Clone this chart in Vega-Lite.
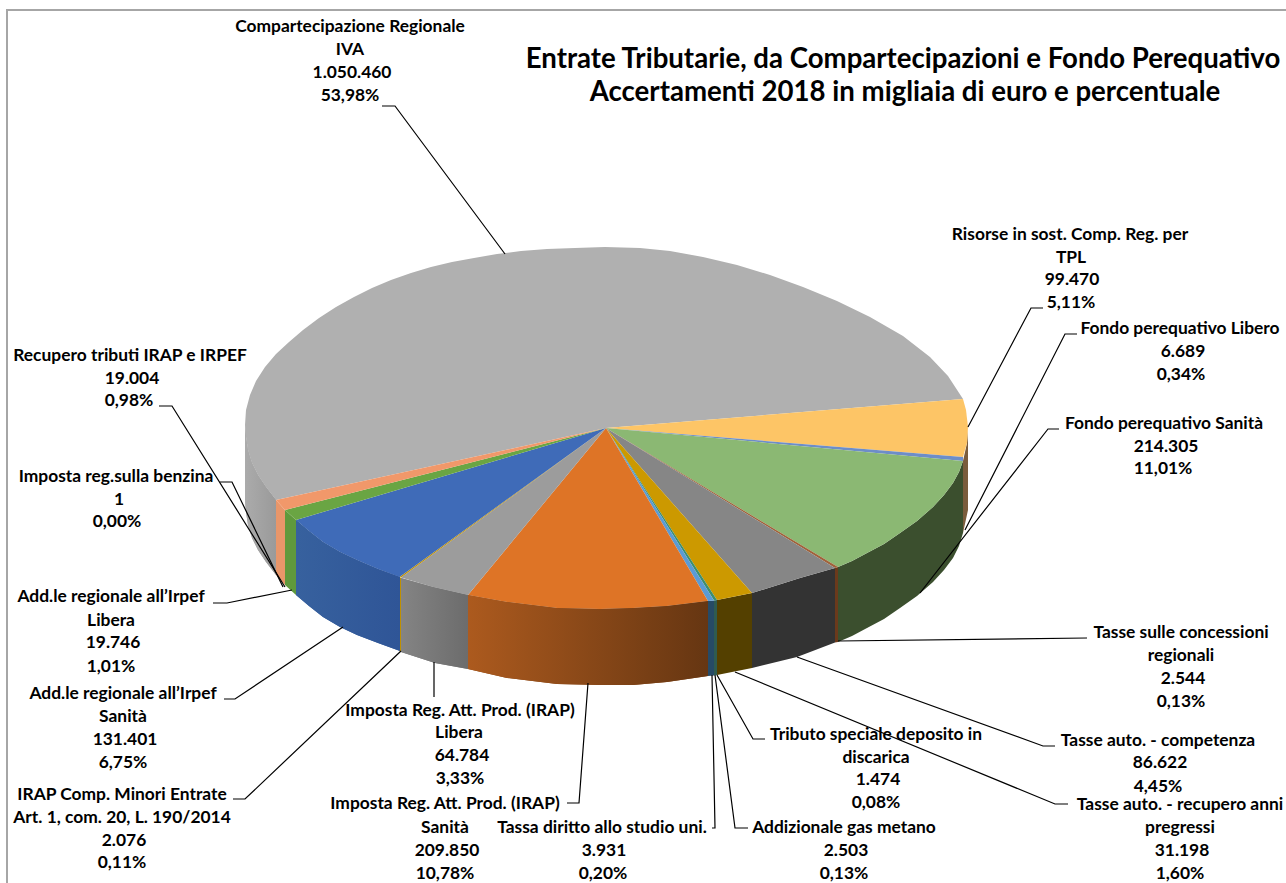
{
"$schema":"https://vega.github.io/schema/vega-lite/v6.json",
"width":1286,"height":883,"padding":0,"autosize":{"type":"none"},
"background":"#ffffff","view":{"stroke":null},
"projection":{"type":"identity"},
"datasets":{
"pie":{"type":"FeatureCollection","features":[
{"type":"Feature","properties":{"part":"extent"},"geometry":{"type":"Polygon","coordinates":[[[0,0],[1286,0],[1286,883],[0,883],[0,0]]]}},
{"type":"Feature","properties":{"part":"IVA side"},"geometry":{"type":"Polygon","coordinates":[[[245,425],[245,500],[246,512],[248,525],[252,538],[258,550],[266,562],[276,575],[276,500],[266,487],[258,475],[252,463],[248,450],[246,437],[245,425]]]}},
{"type":"Feature","properties":{"part":"Recupero side"},"geometry":{"type":"Polygon","coordinates":[[[276,500],[285,510],[285,585],[276,575],[276,500]]]}},
{"type":"Feature","properties":{"part":"AddLibera side"},"geometry":{"type":"Polygon","coordinates":[[[285,510],[296,520],[296,595],[285,585],[285,510]]]}},
{"type":"Feature","properties":{"part":"AddSanita side"},"geometry":{"type":"Polygon","coordinates":[[[296,520],[309,531],[323,542],[340,552],[357,560],[378,569],[400,577],[400,651],[378,643],[357,635],[340,627],[323,617],[309,606],[296,595],[296,520]]]}},
{"type":"Feature","properties":{"part":"IRAPComp side"},"geometry":{"type":"Polygon","coordinates":[[[399,577],[401,578],[401,652],[399,651],[399,577]]]}},
{"type":"Feature","properties":{"part":"IRAPLibera side"},"geometry":{"type":"Polygon","coordinates":[[[401,578],[433,587],[468,595],[468,669],[435,663],[401,652],[401,578]]]}},
{"type":"Feature","properties":{"part":"IRAPSanita side"},"geometry":{"type":"Polygon","coordinates":[[[468,595],[507,602],[557,608],[600,609],[633,608],[667,606],[708,601],[708,676],[667,682],[633,685],[600,685],[557,684],[507,678],[468,669],[468,595]]]}},
{"type":"Feature","properties":{"part":"Studio side"},"geometry":{"type":"Polygon","coordinates":[[[708,601],[714,600.5],[714,675.5],[708,676],[708,601]]]}},
{"type":"Feature","properties":{"part":"Gas side"},"geometry":{"type":"Polygon","coordinates":[[[714,600.5],[717,600],[717,675],[714,675.5],[714,600.5]]]}},
{"type":"Feature","properties":{"part":"Recupero auto side"},"geometry":{"type":"Polygon","coordinates":[[[717,600],[752,593],[752,668],[717,675],[717,600]]]}},
{"type":"Feature","properties":{"part":"Auto side"},"geometry":{"type":"Polygon","coordinates":[[[752,593],[800,578],[835,568],[835,642.5],[797,657],[752,668],[752,593]]]}},
{"type":"Feature","properties":{"part":"Concessioni side"},"geometry":{"type":"Polygon","coordinates":[[[835,568],[838,567],[838,642],[835,642.5],[835,568]]]}},
{"type":"Feature","properties":{"part":"FondoSanita side"},"geometry":{"type":"Polygon","coordinates":[[[838,567],[852,561],[867,553],[884,544],[900,533],[917,521],[933,507],[944,495],[953,483],[959,472],[963,461],[963,533],[959,546],[953,558],[944,570],[933,582],[917,596],[900,608],[884,619],[867,628],[852,636],[838,642],[838,567]]]}},
{"type":"Feature","properties":{"part":"Risorse side"},"geometry":{"type":"Polygon","coordinates":[[[963,461],[967,443],[968,430],[968,510],[963,533],[963,461]]]}},
{"type":"Feature","properties":{"part":"IVA top"},"geometry":{"type":"Polygon","coordinates":[[[606,428],[276,500],[266,487],[258,475],[252,463],[248,450],[246,437],[245,425],[246,410],[250,395],[256,381],[265,367],[276,354],[289,342],[303,330],[319,318],[336,307],[354,297],[372,288],[391,280],[411,273],[431,267],[452,262],[474,258],[497,254],[521,251],[547,249],[575,248],[605,247],[640,248],[670,251],[703,257],[737,265],[770,275],[803,287],[837,301],[870,317],[903,336],[930,357],[948,376],[963,399],[606,428]]]}},
{"type":"Feature","properties":{"part":"Risorse top"},"geometry":{"type":"Polygon","coordinates":[[[606,428],[963,399],[966,410],[968,427],[967,443],[963,457],[606,428]]]}},
{"type":"Feature","properties":{"part":"FondoLibero top"},"geometry":{"type":"Polygon","coordinates":[[[606,428],[963,457],[963,461],[606,428]]]}},
{"type":"Feature","properties":{"part":"FondoSanita top"},"geometry":{"type":"Polygon","coordinates":[[[606,428],[963,461],[959,472],[953,483],[944,495],[933,507],[917,521],[900,533],[884,544],[867,553],[852,561],[838,567],[606,428]]]}},
{"type":"Feature","properties":{"part":"Concessioni top"},"geometry":{"type":"Polygon","coordinates":[[[606,428],[838,567],[835,568],[606,428]]]}},
{"type":"Feature","properties":{"part":"Auto top"},"geometry":{"type":"Polygon","coordinates":[[[606,428],[835,568],[800,578],[752,593],[606,428]]]}},
{"type":"Feature","properties":{"part":"Recupero auto top"},"geometry":{"type":"Polygon","coordinates":[[[606,428],[752,593],[717,600],[606,428]]]}},
{"type":"Feature","properties":{"part":"Gas top"},"geometry":{"type":"Polygon","coordinates":[[[606,428],[717,600],[714,600.5],[606,428]]]}},
{"type":"Feature","properties":{"part":"Studio top"},"geometry":{"type":"Polygon","coordinates":[[[606,428],[714,600.5],[708,601],[606,428]]]}},
{"type":"Feature","properties":{"part":"IRAPSanita top"},"geometry":{"type":"Polygon","coordinates":[[[606,428],[708,601],[667,606],[633,608],[600,609],[557,608],[507,602],[468,595],[606,428]]]}},
{"type":"Feature","properties":{"part":"IRAPLibera top"},"geometry":{"type":"Polygon","coordinates":[[[606,428],[468,595],[433,587],[401,577.5],[606,428]]]}},
{"type":"Feature","properties":{"part":"IRAPComp top"},"geometry":{"type":"Polygon","coordinates":[[[606,428],[401,577.5],[399.5,577],[606,428]]]}},
{"type":"Feature","properties":{"part":"AddSanita top"},"geometry":{"type":"Polygon","coordinates":[[[606,428],[399.5,577],[378,569],[357,560],[340,552],[323,542],[309,531],[296,520],[606,428]]]}},
{"type":"Feature","properties":{"part":"AddLibera top"},"geometry":{"type":"Polygon","coordinates":[[[606,428],[296,520],[285,510],[606,428]]]}},
{"type":"Feature","properties":{"part":"Recupero top"},"geometry":{"type":"Polygon","coordinates":[[[606,428],[285,510],[276,500],[606,428]]]}}
]},
"frame":[
{"i":0,"lon":7,"lat":883},{"i":1,"lon":7,"lat":10},{"i":2,"lon":1286,"lat":10}
],
"leaders":[
{"k":"IVA","i":0,"lon":382,"lat":106},{"k":"IVA","i":1,"lon":395,"lat":106},{"k":"IVA","i":2,"lon":505,"lat":254},
{"k":"Risorse","i":0,"lon":1043,"lat":308},{"k":"Risorse","i":1,"lon":1031,"lat":308},{"k":"Risorse","i":2,"lon":968,"lat":427},
{"k":"FL","i":0,"lon":1077,"lat":334},{"k":"FL","i":1,"lon":1065,"lat":334},{"k":"FL","i":2,"lon":965,"lat":530},
{"k":"FS","i":0,"lon":1059,"lat":429},{"k":"FS","i":1,"lon":1048,"lat":429},{"k":"FS","i":2,"lon":920,"lat":593},
{"k":"Conc","i":0,"lon":838,"lat":641},{"k":"Conc","i":1,"lon":1087,"lat":638},
{"k":"Auto","i":0,"lon":797,"lat":657},{"k":"Auto","i":1,"lon":1043,"lat":746},{"k":"Auto","i":2,"lon":1055,"lat":746},
{"k":"RecAuto","i":0,"lon":735,"lat":672},{"k":"RecAuto","i":1,"lon":1055,"lat":804},{"k":"RecAuto","i":2,"lon":1068,"lat":804},
{"k":"Trib","i":0,"lon":717,"lat":675},{"k":"Trib","i":1,"lon":753,"lat":739},{"k":"Trib","i":2,"lon":765,"lat":739},
{"k":"Gas","i":0,"lon":715,"lat":675},{"k":"Gas","i":1,"lon":735,"lat":828},{"k":"Gas","i":2,"lon":748,"lat":828},
{"k":"Studio","i":0,"lon":712,"lat":675},{"k":"Studio","i":1,"lon":715,"lat":828},{"k":"Studio","i":2,"lon":712,"lat":828},
{"k":"IS","i":0,"lon":588,"lat":683},{"k":"IS","i":1,"lon":579,"lat":803},{"k":"IS","i":2,"lon":567,"lat":803},
{"k":"IL","i":0,"lon":434,"lat":662},{"k":"IL","i":1,"lon":434,"lat":697},
{"k":"IC","i":0,"lon":401,"lat":651},{"k":"IC","i":1,"lon":245,"lat":799},{"k":"IC","i":2,"lon":233,"lat":799},
{"k":"AS","i":0,"lon":343,"lat":627},{"k":"AS","i":1,"lon":235,"lat":699},{"k":"AS","i":2,"lon":224,"lat":699},
{"k":"AL","i":0,"lon":292,"lat":590},{"k":"AL","i":1,"lon":227,"lat":603},{"k":"AL","i":2,"lon":213,"lat":603},
{"k":"Rec","i":0,"lon":159,"lat":406},{"k":"Rec","i":1,"lon":172,"lat":406},{"k":"Rec","i":2,"lon":285,"lat":587},
{"k":"Benz","i":0,"lon":220,"lat":482},{"k":"Benz","i":1,"lon":232,"lat":482},{"k":"Benz","i":2,"lon":283,"lat":587}
],
"titles":[
{"line":"Entrate Tributarie, da Compartecipazioni e Fondo Perequativo","lon":903,"lat":60},
{"line":"Accertamenti 2018 in migliaia di euro e percentuale","lon":905,"lat":93}
],
"labels":[
{"line":"Compartecipazione Regionale","lon":350,"lat":27},{"line":"IVA","lon":350,"lat":50},{"line":"1.050.460","lon":352,"lat":73},{"line":"53,98%","lon":350,"lat":96},
{"line":"Risorse in sost. Comp. Reg. per","lon":1070,"lat":235},{"line":"TPL","lon":1071,"lat":258},{"line":"99.470","lon":1072,"lat":280},{"line":"5,11%","lon":1071,"lat":303},
{"line":"Fondo perequativo Libero","lon":1180,"lat":329},{"line":"6.689","lon":1183,"lat":352},{"line":"0,34%","lon":1181,"lat":375},
{"line":"Fondo perequativo Sanità","lon":1164,"lat":424},{"line":"214.305","lon":1166,"lat":447},{"line":"11,01%","lon":1163,"lat":469},
{"line":"Tasse sulle concessioni","lon":1181,"lat":633},{"line":"regionali","lon":1181,"lat":656},{"line":"2.544","lon":1183,"lat":679},{"line":"0,13%","lon":1181,"lat":702},
{"line":"Tasse auto. - competenza","lon":1158,"lat":741},{"line":"86.622","lon":1160,"lat":763},{"line":"4,45%","lon":1158,"lat":787},
{"line":"Tasse auto. - recupero anni","lon":1180,"lat":805},{"line":"pregressi","lon":1180,"lat":828},{"line":"31.198","lon":1182,"lat":851},{"line":"1,60%","lon":1180,"lat":874},
{"line":"Tributo speciale deposito in","lon":876,"lat":735},{"line":"discarica","lon":876,"lat":758},{"line":"1.474","lon":878,"lat":780},{"line":"0,08%","lon":876,"lat":803},
{"line":"Addizionale gas metano","lon":844,"lat":828},{"line":"2.503","lon":846,"lat":851},{"line":"0,13%","lon":844,"lat":874},
{"line":"Tassa diritto allo studio uni.","lon":602,"lat":828},{"line":"3.931","lon":604,"lat":851},{"line":"0,20%","lon":603,"lat":874},
{"line":"Imposta Reg. Att. Prod. (IRAP)","lon":445,"lat":804},{"line":"Sanità","lon":445,"lat":828},{"line":"209.850","lon":447,"lat":851},{"line":"10,78%","lon":445,"lat":874},
{"line":"Imposta Reg. Att. Prod. (IRAP)","lon":460,"lat":711},{"line":"Libera","lon":459,"lat":733},{"line":"64.784","lon":462,"lat":756},{"line":"3,33%","lon":460,"lat":779},
{"line":"Add.le regionale all’Irpef","lon":111,"lat":597},{"line":"Libera","lon":111,"lat":621},{"line":"19.746","lon":113,"lat":643},{"line":"1,01%","lon":111,"lat":667},
{"line":"Add.le regionale all’Irpef","lon":123,"lat":694},{"line":"Sanità","lon":123,"lat":717},{"line":"131.401","lon":125,"lat":740},{"line":"6,75%","lon":123,"lat":763},
{"line":"IRAP Comp. Minori Entrate","lon":122,"lat":795},{"line":"Art. 1, com. 20, L. 190/2014","lon":122,"lat":818},{"line":"2.076","lon":124,"lat":841},{"line":"0,11%","lon":122,"lat":863},
{"line":"Imposta reg.sulla benzina","lon":116,"lat":477},{"line":"1","lon":119,"lat":500},{"line":"0,00%","lon":117,"lat":522},
{"line":"Recupero tributi IRAP e IRPEF","lon":130,"lat":356},{"line":"19.004","lon":132,"lat":379},{"line":"0,98%","lon":129,"lat":401}
]
},
"layer":[
{"data":{"name":"pie","format":{"type":"json","property":"features"}},
"mark":{"type":"geoshape","strokeWidth":0},
"encoding":{"color":{"field":"properties.part","type":"nominal","legend":null,"sort":null,
"scale":{"domain":["extent","IVA side","Recupero side","AddLibera side","AddSanita side","IRAPComp side","IRAPLibera side","IRAPSanita side","Studio side","Gas side","Recupero auto side","Auto side","Concessioni side","FondoSanita side","Risorse side","IVA top","Risorse top","FondoLibero top","FondoSanita top","Concessioni top","Auto top","Recupero auto top","Gas top","Studio top","IRAPSanita top","IRAPLibera top","IRAPComp top","AddSanita top","AddLibera top","Recupero top"],
"range":["transparent","#A2A2A2","#E8966A","#5F993C","#345C9B","#BF9000","#7B7B7B","#884818","#264A66","#2F5B50","#544000","#333333","#6B3A1C","#3B4F2E","#7A5C3C",
"#B0B0B0","#FDC566","#6D8DC8","#8BB873","#A0623A","#868686","#CC9900","#3E8E6E","#5B9BD5","#DE7426","#9C9C9C","#BF9000","#3F6BB8","#6AA543","#F1986A"]}}}},
{"data":{"name":"pie","format":{"type":"json","property":"features"}},"transform":[{"filter":"datum.properties.part==='IVA side'"}],
"mark":{"type":"geoshape","strokeWidth":0,"fill":{"gradient":"linear","x1":0,"y1":0,"x2":1,"y2":0,"stops":[{"offset":0,"color":"#ABABAB"},{"offset":1,"color":"#9A9A9A"}]}}},
{"data":{"name":"pie","format":{"type":"json","property":"features"}},"transform":[{"filter":"datum.properties.part==='AddSanita side'"}],
"mark":{"type":"geoshape","strokeWidth":0,"fill":{"gradient":"linear","x1":0,"y1":0,"x2":1,"y2":0,"stops":[{"offset":0,"color":"#37619E"},{"offset":1,"color":"#2F5597"}]}}},
{"data":{"name":"pie","format":{"type":"json","property":"features"}},"transform":[{"filter":"datum.properties.part==='IRAPLibera side'"}],
"mark":{"type":"geoshape","strokeWidth":0,"fill":{"gradient":"linear","x1":0,"y1":0,"x2":1,"y2":0,"stops":[{"offset":0,"color":"#848484"},{"offset":1,"color":"#6C6C6C"}]}}},
{"data":{"name":"pie","format":{"type":"json","property":"features"}},"transform":[{"filter":"datum.properties.part==='IRAPSanita side'"}],
"mark":{"type":"geoshape","strokeWidth":0,"fill":{"gradient":"linear","x1":0,"y1":0,"x2":1,"y2":0,"stops":[{"offset":0,"color":"#AC5A1E"},{"offset":1,"color":"#663612"}]}}},
{"data":{"name":"frame"},"mark":{"type":"line","color":"#A6A6A6","strokeWidth":2},
"encoding":{"longitude":{"field":"lon","type":"quantitative"},"latitude":{"field":"lat","type":"quantitative"},"order":{"field":"i"}}},
{"data":{"name":"leaders"},"mark":{"type":"line","color":"#000000","strokeWidth":1.2},
"encoding":{"longitude":{"field":"lon","type":"quantitative"},"latitude":{"field":"lat","type":"quantitative"},"detail":{"field":"k"},"order":{"field":"i"}}},
{"data":{"name":"labels"},"mark":{"type":"text","font":"Lato","fontWeight":"bold","fontSize":17.4,"align":"center","baseline":"middle","color":"#000000"},
"encoding":{"longitude":{"field":"lon","type":"quantitative"},"latitude":{"field":"lat","type":"quantitative"},"text":{"field":"line"}}},
{"data":{"name":"titles"},"mark":{"type":"text","font":"Lato","fontWeight":"bold","fontSize":27.6,"align":"center","baseline":"middle","color":"#000000"},
"encoding":{"longitude":{"field":"lon","type":"quantitative"},"latitude":{"field":"lat","type":"quantitative"},"text":{"field":"line"}}}
]
}
